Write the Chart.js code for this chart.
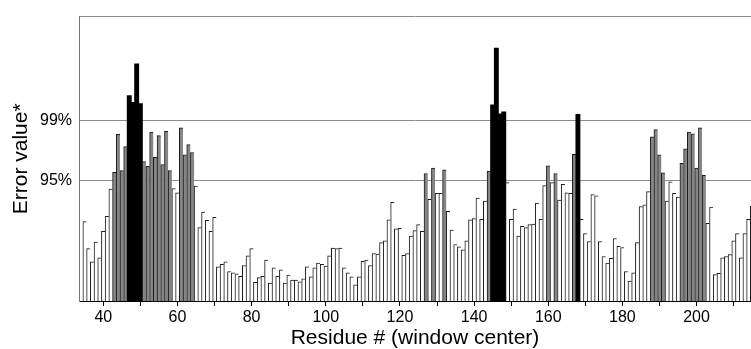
<!DOCTYPE html>
<html>
<head>
<meta charset="utf-8">
<script src="https://cdn.jsdelivr.net/npm/chart.js@4"></script>
<style>
  html, body { margin: 0; padding: 0; background: #fff; }
  #wrap { width: 751px; height: 349px; position: relative; }
</style>
</head>
<body>
<div id="wrap"><canvas id="chart"></canvas></div>
<script>
// residue numbers (window center), one bar each
const firstResidue = 35;
const errorValues = [
    1.32, 0.87, 0.65, 0.98, 0.72, 1.16, 1.41, 1.86, 2.14, 2.77,
    2.17, 2.57, 3.41, 3.30, 3.94, 3.28, 2.32, 2.24, 2.81, 2.39,
    2.75, 2.27, 2.82, 2.17, 1.87, 1.80, 2.88, 2.43, 2.60, 2.47,
    1.91, 1.22, 1.48, 1.34, 1.16, 1.39, 0.57, 0.61, 0.65, 0.49,
    0.47, 0.45, 0.41, 0.59, 0.75, 0.87, 0.31, 0.39, 0.41, 0.68,
    0.30, 0.55, 0.41, 0.52, 0.30, 0.43, 0.35, 0.35, 0.32, 0.37,
    0.57, 0.40, 0.55, 0.63, 0.61, 0.58, 0.75, 0.88, 0.87, 0.88,
    0.55, 0.47, 0.40, 0.27, 0.40, 0.66, 0.68, 0.59, 0.79, 0.78,
    0.97, 1.00, 1.35, 1.64, 1.20, 1.21, 0.76, 0.79, 1.08, 1.17,
    1.27, 1.16, 2.12, 1.69, 2.21, 1.79, 1.79, 2.18, 1.49, 1.18,
    0.94, 0.90, 0.85, 1.00, 1.35, 1.37, 1.71, 1.36, 1.66, 2.16,
    3.26, 4.20, 3.11, 3.14, 1.97, 1.36, 1.53, 1.08, 1.24, 1.22,
    1.27, 1.28, 1.63, 1.36, 1.92, 2.25, 1.97, 2.12, 1.68, 1.94,
    1.80, 1.79, 2.44, 3.10, 1.36, 1.12, 0.99, 1.77, 1.75, 0.99,
    0.74, 0.63, 0.71, 1.04, 0.91, 0.89, 0.49, 0.33, 0.47, 0.97,
    1.57, 1.60, 1.82, 2.73, 2.85, 2.43, 2.13, 1.66, 1.98, 1.79,
    1.73, 2.29, 2.53, 2.81, 2.78, 2.21, 2.88, 2.09, 1.29, 1.56,
    0.44, 0.46, 0.72, 0.74, 0.77, 1.00, 1.12, 0.72, 1.12, 1.36,
    1.58
];
const residues = errorValues.map((v, i) => firstResidue + i);

// significance thresholds and y tick labels
const threshold95 = 2.0;
const threshold99 = 3.0;
const yMax = 4.73;
const yTickValues = [threshold95, threshold99, yMax];
const yTickLabels = ['95%', '99%', ''];

const xMin = 33.45;
const xMax = 214.68;

function barColor(v) {
    if (v >= threshold99) return '#000000';
    if (v >= threshold95) return '#858585';
    return '#ffffff';
}

const ctx = document.getElementById('chart').getContext('2d');
const fontFamily = 'Liberation Sans, Arial, sans-serif';

new Chart(ctx, {
    type: 'bar',
    data: {
        datasets: [{
            data: residues.map((r, i) => ({ x: r, y: errorValues[i] })),
            backgroundColor: errorValues.map(barColor),
            borderColor: '#1a1a1a',
            // black bars are solid blocks, the rest get a thin outline
            borderWidth: c => (errorValues[c.dataIndex] >= threshold99
                ? 0
                : { left: 1, top: 1, right: 0, bottom: 0 }),
            inflateAmount: c => (errorValues[c.dataIndex] >= threshold99 ? 0.6 : 0.33),
            borderSkipped: 'bottom',
            categoryPercentage: 1,
            barPercentage: 1,
            clip: 0
        }]
    },
    options: {
        responsive: true,
        maintainAspectRatio: false,
        animation: false,
        layout: { padding: { top: 14, left: 0, right: 0, bottom: 0 } },
        plugins: { legend: { display: false }, tooltip: { enabled: false } },
        scales: {
            x: {
                type: 'linear',
                min: xMin,
                max: xMax,
                offset: false,
                grid: {
                    offset: false,
                    drawOnChartArea: false,
                    drawTicks: true,
                    tickLength: 5,
                    color: '#000'
                },
                border: { display: true, color: '#000', width: 1 },
                ticks: {
                    stepSize: 10,
                    autoSkip: false,
                    includeBounds: false,
                    maxRotation: 0,
                    padding: 2,
                    color: '#000',
                    font: { family: fontFamily, size: 16 },
                    callback: v => (v % 20 === 0 ? v : '')
                },
                title: {
                    display: true,
                    text: 'Residue # (window center)',
                    color: '#000',
                    font: { family: fontFamily, size: 21, lineHeight: 1.0 },
                    padding: { top: 0, bottom: 0 }
                },
                afterFit: scale => { scale.height = 48; }
            },
            y: {
                min: 0,
                max: yMax,
                afterBuildTicks: scale => {
                    scale.ticks = yTickValues.map(v => ({ value: v }));
                },
                grid: { drawTicks: false, color: '#8c8c8c', lineWidth: 1 },
                border: { display: true, color: '#777', width: 1 },
                ticks: {
                    padding: 7,
                    color: '#000',
                    font: { family: fontFamily, size: 16 },
                    callback: (value, index) => yTickLabels[index]
                },
                title: {
                    display: true,
                    text: 'Error value*',
                    color: '#000',
                    font: { family: fontFamily, size: 21, lineHeight: 1.0 },
                    padding: { top: 11, bottom: 0 }
                },
                afterFit: scale => { scale.width = 79; }
            }
        }
    }
});
</script>
</body>
</html>
